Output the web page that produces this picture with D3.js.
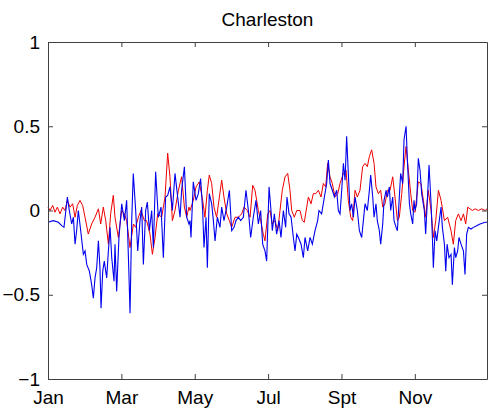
<!DOCTYPE html>
<html>
<head>
<meta charset="utf-8">
<script src="https://cdn.jsdelivr.net/npm/d3@7"></script>
<style>
  body { margin: 0; background: #fff; }
  svg text { font-family: "Liberation Sans", Arial, Helvetica, sans-serif; fill: #000; }
</style>
</head>
<body>
<svg id="chart" width="488" height="415"></svg>
<script>
// month tick labels (one every 61 days)
var monthLabels = ["Jan", "Mar", "May", "Jul", "Spt", "Nov"];
var monthDays = [0, 61, 122, 183, 244, 305];
var yTicks = [-1, -0.5, 0, 0.5, 1];

// series as [day of year, value]
var redSeries = [
  [0,0.02],[1.7,0.0],[3.9,0.03],[5.8,-0.01],[7.8,0.02],[10.0,-0.02],[12.2,0.02],[14.1,0.0],
  [16.1,0.06],[18.3,0.02],[20.5,0.04],[22.5,-0.04],[24.4,0.03],[26.6,0.06],[28.8,0.03],[30.8,-0.04],
  [33.5,-0.14],[36.3,-0.08],[39.1,-0.04],[41.9,0.01],[43.8,-0.08],[46.0,0.02],[48.0,-0.06],[50.2,-0.20],
  [52.1,-0.02],[54.3,0.09],[55.7,-0.04],[58.5,-0.16],[61.3,0.0],[63.5,-0.02],[65.4,-0.06],[68.2,-0.22],
  [71.0,-0.08],[72.9,-0.10],[75.1,-0.04],[77.3,0.0],[80.1,-0.06],[82.0,-0.06],[84.8,-0.14],[86.8,-0.26],
  [89.0,-0.16],[91.2,-0.02],[94.5,-0.04],[97.3,0.08],[99.5,0.34],[101.4,0.20],[103.4,-0.06],[105.6,0.0],
  [108.4,0.12],[111.1,0.20],[113.4,0.02],[115.3,-0.04],[117.2,0.02],[118.1,0.0],[120.8,0.06],[123.1,0.14],
  [125.8,0.17],[128.6,0.06],[130.5,-0.04],[132.5,0.12],[134.1,0.21],[136.1,0.16],[138.0,0.02],[140.2,-0.04],
  [142.5,0.08],[144.4,0.18],[146.3,0.08],[148.6,-0.02],[150.8,-0.06],[152.7,-0.10],[155.5,-0.04],[158.3,-0.04],
  [161.0,-0.02],[163.0,0.02],[165.7,0.0],[168.0,-0.04],[170.2,0.15],[172.1,0.12],[174.9,0.0],[176.8,-0.06],
  [179.0,-0.14],[180.4,-0.18],[182.7,-0.02],[184.6,0.0],[186.5,-0.08],[188.8,-0.06],[191.0,-0.12],[192.9,0.0],
  [194.8,0.12],[197.1,0.20],[199.3,0.22],[201.2,0.12],[202.6,0.0],[204.8,-0.04],[206.8,0.0],[209.5,0.0],
  [211.5,-0.06],[213.1,-0.07],[215.1,0.02],[216.5,0.08],[218.7,0.04],[220.6,0.10],[222.6,0.10],[224.8,0.12],
  [227.0,0.08],[228.9,0.16],[230.9,0.14],[232.5,0.28],[234.5,0.20],[236.4,0.16],[238.6,0.08],[240.9,0.10],
  [242.8,0.16],[245.6,0.22],[247.8,0.24],[249.7,0.06],[251.7,-0.04],[253.3,-0.06],[255.3,0.12],[257.2,0.08],
  [259.4,0.12],[261.6,0.26],[263.6,0.28],[265.5,0.26],[267.2,0.32],[269.1,0.36],[271.1,0.28],[272.7,0.14],
  [274.7,0.10],[276.6,0.12],[278.3,0.02],[280.2,0.04],[282.2,0.12],[284.4,0.12],[286.6,0.20],[288.5,0.08],
  [290.5,-0.06],[292.1,-0.04],[294.1,0.10],[296.0,0.26],[297.7,0.38],[299.6,0.24],[301.6,0.10],[303.2,0.0],
  [305.2,-0.01],[307.9,0.17],[310.1,0.16],[312.1,0.06],[314.0,-0.04],[316.2,0.12],[318.5,0.0],[320.4,-0.16],
  [322.4,-0.06],[324.6,0.12],[326.8,0.06],[329.6,-0.06],[332.3,-0.04],[335.1,-0.12],[337.0,-0.20],[339.0,-0.06],
  [341.2,-0.02],[343.4,-0.06],[345.4,-0.02],[347.3,-0.08],[349.0,0.02],[350.9,0.01],[352.8,0.0],[355.1,0.01],
  [357.8,0.0],[360.6,0.01],[363.4,0.0],[365,0.01]
];

var blueSeries = [
  [0,-0.07],[4.4,-0.06],[8.6,-0.07],[11.4,-0.09],[13.3,-0.10],[16.1,0.08],[17.7,0.0],[19.7,-0.08],
  [21.1,-0.04],[22.5,-0.20],[23.8,-0.12],[25.2,0.0],[27.2,-0.12],[29.4,-0.26],[30.8,-0.24],[32.2,-0.32],
  [34.4,-0.36],[36.3,-0.44],[37.7,-0.52],[39.1,-0.40],[40.5,-0.34],[41.9,-0.18],[43.2,-0.34],[44.1,-0.58],
  [45.5,-0.36],[46.8,-0.30],[48.8,-0.40],[50.2,-0.24],[51.6,-0.10],[53.0,-0.28],[54.9,-0.42],[55.7,-0.20],
  [57.1,-0.48],[59.0,-0.16],[61.3,0.04],[63.5,-0.06],[65.4,0.06],[67.3,-0.38],[68.2,-0.61],[69.6,-0.06],
  [70.9,0.22],[72.9,0.0],[74.6,-0.24],[76.5,-0.06],[77.9,0.02],[79.3,-0.32],[81.2,0.0],[82.6,0.05],
  [84.3,-0.12],[86.2,0.0],[87.6,-0.22],[89.5,0.23],[91.7,-0.04],[94.0,0.02],[95.9,-0.28],[97.8,0.08],
  [99.5,0.09],[101.4,0.14],[103.4,0.0],[105.6,0.22],[107.8,0.08],[109.8,-0.04],[111.1,0.12],[113.4,0.26],
  [115.3,-0.04],[117.2,-0.08],[118.1,-0.06],[118.9,-0.16],[120.8,0.17],[123.1,0.06],[125.0,0.10],[126.9,0.19],
  [128.6,0.0],[129.7,-0.22],[131.4,-0.04],[132.5,-0.34],[134.1,0.10],[136.1,0.04],[137.5,-0.06],[138.9,-0.18],
  [140.8,-0.04],[143.0,-0.10],[144.4,0.02],[146.3,-0.06],[148.6,0.02],[150.8,0.12],[152.7,-0.12],[154.7,-0.10],
  [156.3,-0.06],[158.3,-0.04],[160.2,-0.06],[162.4,-0.04],[164.6,0.12],[166.6,0.0],[168.5,-0.16],[170.7,-0.04],
  [172.9,0.06],[174.9,-0.08],[176.8,0.0],[178.5,-0.20],[180.4,-0.24],[181.8,-0.30],[183.8,0.14],[185.4,0.0],
  [186.5,-0.12],[188.2,-0.02],[190.1,-0.14],[192.1,-0.06],[193.7,-0.16],[195.7,0.0],[197.6,-0.10],[198.7,0.08],
  [200.4,-0.02],[202.1,-0.04],[204.0,-0.16],[205.4,-0.24],[206.8,-0.14],[208.2,-0.16],[210.4,-0.20],[212.3,-0.28],
  [213.7,-0.16],[215.9,-0.24],[217.9,-0.16],[219.8,-0.20],[222.0,-0.12],[224.2,-0.06],[225.3,0.0],[227.5,-0.02],
  [229.8,0.08],[231.7,0.16],[233.1,0.30],[234.5,0.16],[236.4,0.12],[238.1,0.08],[240.0,0.12],[241.4,0.0],
  [242.8,-0.02],[244.2,0.12],[245.6,0.28],[247.0,0.18],[248.3,0.44],[249.7,0.22],[251.1,0.0],[252.5,0.04],
  [253.9,-0.04],[255.3,0.08],[257.2,0.0],[258.9,-0.12],[260.8,-0.16],[262.2,-0.06],[263.6,0.04],[265.5,0.0],
  [267.2,0.12],[268.3,0.21],[270.0,0.08],[271.1,-0.04],[272.7,0.04],[273.8,-0.06],[275.5,-0.12],[276.6,-0.20],
  [278.3,-0.08],[279.4,0.06],[281.1,0.12],[282.2,0.08],[283.8,0.14],[284.9,0.0],[286.6,0.08],[287.7,-0.06],
  [289.4,-0.10],[290.5,-0.12],[292.1,0.08],[293.2,0.22],[294.9,0.16],[296.0,0.42],[297.7,0.50],[298.8,0.30],
  [300.5,0.04],[301.6,-0.02],[303.2,-0.08],[304.3,0.06],[305.2,0.0],[306.5,0.04],[307.9,0.31],[309.3,0.24],
  [310.7,0.10],[312.9,0.0],[314.0,-0.14],[315.7,0.10],[316.8,0.27],[318.5,0.04],[319.6,-0.16],[320.4,-0.34],
  [321.8,-0.12],[323.2,-0.18],[324.6,-0.10],[326.8,0.02],[327.9,-0.10],[329.6,-0.20],[330.7,-0.36],[331.8,-0.20],
  [333.4,-0.28],[335.1,-0.26],[336.2,-0.44],[337.9,-0.22],[339.0,-0.28],[340.6,-0.24],[341.7,-0.16],[343.4,-0.20],
  [345.4,-0.24],[346.7,-0.38],[348.1,-0.14],[349.5,-0.10],[351.7,-0.11],[353.7,-0.10],[356.4,-0.09],[359.2,-0.08],
  [363.4,-0.07],[365,-0.07]
];

drawChart();

function drawChart() {
    var svg = d3.select("#chart"),
        plotLeft = 48, plotRight = 487, plotTop = 42, plotBottom = 379,
        axisColor = "#404040", //frame and tick colour
        tickLen = 5; //ticks point into the plot

    var x = d3.scaleLinear().domain([0, 365]).range([plotLeft, plotRight]);
    var y = d3.scaleLinear().domain([-1, 1]).range([plotBottom, plotTop]);

    //title
    svg.append("text")
        .attr("x", (plotLeft + plotRight) / 2)
        .attr("y", 26)
        .attr("text-anchor", "middle")
        .style("font-size", "19px")
        .text("Charleston");

    var line = d3.line()
        .x(function(d){ return x(d[0]); })
        .y(function(d){ return y(d[1]); });

    //red first, blue on top
    svg.append("path")
        .datum(redSeries)
        .attr("d", line)
        .attr("fill", "none")
        .attr("stroke", "#ee0000")
        .attr("stroke-width", 1);

    svg.append("path")
        .datum(blueSeries)
        .attr("d", line)
        .attr("fill", "none")
        .attr("stroke", "#0000ee")
        .attr("stroke-width", 1.1);

    //axes, mirrored on the opposite sides
    svg.append("g")
        .attr("transform", "translate(0," + plotBottom + ")")
        .call(d3.axisBottom(x).tickValues(monthDays)
            .tickSizeInner(-tickLen).tickSizeOuter(0).tickPadding(12)
            .tickFormat(function(d, i){ return monthLabels[i]; }))
        .call(styleAxis);

    svg.append("g")
        .attr("transform", "translate(0," + plotTop + ")")
        .call(d3.axisTop(x).tickValues(monthDays)
            .tickSizeInner(-tickLen).tickSizeOuter(0).tickFormat(""))
        .call(styleAxis);

    svg.append("g")
        .attr("transform", "translate(" + plotLeft + ",0)")
        .call(d3.axisLeft(y).tickValues(yTicks)
            .tickSizeInner(-tickLen).tickSizeOuter(0).tickPadding(8)
            .tickFormat(d3.format("")))
        .call(styleAxis);

    svg.append("g")
        .attr("transform", "translate(" + plotRight + ",0)")
        .call(d3.axisRight(y).tickValues(yTicks)
            .tickSizeInner(-tickLen).tickSizeOuter(0).tickFormat(""))
        .call(styleAxis);

    function styleAxis(g) {
        g.attr("font-size", null).attr("font-family", null);
        g.select(".domain").attr("stroke", axisColor);
        g.selectAll(".tick line").attr("stroke", axisColor);
        g.selectAll(".tick text").style("font-size", "19px");
    }
}
</script>
</body>
</html>
